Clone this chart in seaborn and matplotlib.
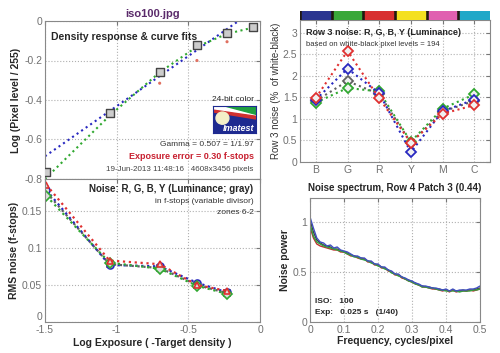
import numpy as np
import pandas as pd
import seaborn as sns
import matplotlib.pyplot as plt
from matplotlib.patches import Polygon, Ellipse

# ---- data ----
# density response (top left)
exposure_log = [-1.49, -1.05, -0.70, -0.44, -0.23, -0.05]
density_pts = [-0.765, -0.466, -0.258, -0.12, -0.06, -0.03]
red_dots_x = [-0.70, -0.44, -0.23]
red_dots_y = [-0.315, -0.20, -0.105]
fit_blue_x = [-1.5, -0.15]
fit_blue_y = [-0.685, 0.0]
fit_green_x = [-1.5, -1.05, -0.70, -0.44, -0.23, -0.03]
fit_green_y = [-0.80, -0.48, -0.26, -0.13, -0.065, -0.03]

# RMS noise in f-stops (bottom left)
noise_x = [-1.49, -1.05, -0.70, -0.44, -0.23]
noise_r = [0.185, 0.083, 0.078, 0.050, 0.042]
noise_g = [0.170, 0.080, 0.072, 0.049, 0.038]
noise_b = [0.178, 0.077, 0.075, 0.053, 0.040]
noise_y = [0.175, 0.078, 0.073, 0.050, 0.039]

# row 3 noise (top right)
patches = ['B', 'G', 'R', 'Y', 'M', 'C']
row3_r = [1.49, 2.58, 1.48, 0.45, 1.12, 1.32]
row3_g = [1.38, 1.72, 1.64, 0.47, 1.24, 1.57]
row3_b = [1.45, 2.17, 1.60, 0.23, 1.18, 1.45]
row3_y = [1.42, 1.88, 1.58, 0.45, 1.17, 1.42]
patch_colors = ['#2b3590', '#3aa83a', '#d83030', '#f4e020', '#e060b0', '#20a8c8']

# noise spectrum (bottom right)
freq = np.round(np.arange(0, 0.501, 0.01), 2)
spec_y = [1.02, 0.90, 0.82, 0.79, 0.77, 0.76, 0.75, 0.73, 0.73, 0.71, 0.70, 0.69, 0.67,
          0.66, 0.65, 0.64, 0.63, 0.61, 0.60, 0.58, 0.57, 0.55, 0.54, 0.52, 0.50, 0.48,
          0.47, 0.45, 0.43, 0.42, 0.40, 0.39, 0.37, 0.36, 0.35, 0.35, 0.34, 0.33, 0.33,
          0.32, 0.32, 0.31, 0.32, 0.31, 0.31, 0.32, 0.31, 0.32, 0.32, 0.33, 0.34]
spec_b = [1.05, 0.94, 0.84, 0.80, 0.79, 0.76, 0.77, 0.74, 0.75, 0.72, 0.71, 0.70, 0.68,
          0.66, 0.66, 0.64, 0.64, 0.61, 0.61, 0.58, 0.58, 0.55, 0.55, 0.52, 0.51, 0.48,
          0.48, 0.45, 0.44, 0.42, 0.41, 0.39, 0.38, 0.36, 0.36, 0.35, 0.34, 0.34, 0.33,
          0.32, 0.33, 0.31, 0.33, 0.31, 0.32, 0.32, 0.32, 0.33, 0.33, 0.34, 0.36]
spec_g = [0.98, 0.86, 0.80, 0.78, 0.76, 0.75, 0.74, 0.73, 0.72, 0.71, 0.70, 0.68, 0.67,
          0.65, 0.65, 0.63, 0.62, 0.61, 0.59, 0.58, 0.56, 0.55, 0.53, 0.52, 0.49, 0.48,
          0.46, 0.45, 0.43, 0.41, 0.40, 0.38, 0.37, 0.35, 0.35, 0.34, 0.34, 0.33, 0.32,
          0.32, 0.31, 0.31, 0.31, 0.31, 0.30, 0.31, 0.31, 0.31, 0.32, 0.32, 0.33]
spec_r = [0.95, 0.84, 0.78, 0.76, 0.75, 0.74, 0.73, 0.72, 0.72, 0.70, 0.70, 0.68, 0.66,
          0.66, 0.64, 0.63, 0.63, 0.60, 0.60, 0.57, 0.57, 0.54, 0.54, 0.51, 0.50, 0.47,
          0.47, 0.44, 0.43, 0.41, 0.40, 0.38, 0.37, 0.35, 0.35, 0.34, 0.33, 0.33, 0.32,
          0.31, 0.32, 0.30, 0.32, 0.30, 0.31, 0.31, 0.31, 0.32, 0.31, 0.32, 0.33]

RED, GREEN, BLUE, GRAY = '#e03030', '#30a830', '#2828c0', '#606060'

sns.set_style('white')
plt.rcParams['font.family'] = ['Liberation Sans', 'DejaVu Sans']

W, H = 500, 353
fig = plt.figure(figsize=(W / 100, H / 100), dpi=100)


def px_axes(l, t, r, b):
    return fig.add_axes([l / W, 1 - b / H, (r - l) / W, (b - t) / H])


def style(ax):
    ax.grid(True, linestyle=':', color='#b0b0b0', linewidth=0.8)
    ax.tick_params(direction='in', top=True, right=True, length=3, labelsize=7.5,
                   labelcolor='#707070', color='#777777', pad=2)
    for s in ax.spines.values():
        s.set_color('#888888')
        s.set_linewidth(0.8)


# ---- top left: density response ----
ax1 = px_axes(45, 21, 260, 179)
sns.lineplot(x=fit_blue_x, y=fit_blue_y, ax=ax1, color=BLUE, linestyle=':', linewidth=1.5)
sns.lineplot(x=fit_green_x, y=fit_green_y, ax=ax1, color=GREEN, linestyle=':', linewidth=1.5)
sns.scatterplot(x=red_dots_x, y=red_dots_y, ax=ax1, color='#e07060', s=5, edgecolor='none')
sns.scatterplot(x=exposure_log, y=density_pts, ax=ax1, marker='s', s=30, color='#cccccc',
                edgecolor='#444444', linewidth=1.0, zorder=5)
ax1.set_xlim(-1.5, 0)
ax1.set_ylim(-0.8, 0)
ax1.set_xticks([-1.5, -1, -0.5, 0])
ax1.set_xticklabels([])
ax1.set_yticks([0, -0.2, -0.4, -0.6, -0.8])
ax1.set_yticklabels(['0', '-0.2', '-0.4', '-0.6', '-0.8'])
ax1.set_ylabel('Log (Pixel level / 255)', fontsize=7.5, fontweight='bold', labelpad=2)
style(ax1)
ax1.text(0.03, 0.93, 'Density response & curve fits', transform=ax1.transAxes,
         fontsize=7.5, fontweight='bold', va='top')
ax1.text(0.97, 0.505, '24-bit color', transform=ax1.transAxes, fontsize=6, ha='right', va='center')
ax1.text(0.97, 0.22, 'Gamma = 0.507 = 1/1.97', transform=ax1.transAxes, fontsize=6,
         ha='right', va='center', color='#333333')
ax1.text(0.97, 0.14, 'Exposure error = 0.30 f-stops', transform=ax1.transAxes, fontsize=6.5,
         ha='right', va='center', color='#c82030', fontweight='bold')
ax1.text(0.97, 0.06, '19-Jun-2013 11:48:16   4608x3456 pixels', transform=ax1.transAxes,
         fontsize=5.8, ha='right', va='center', color='#444444')
ax1.set_title('iso100.jpg', fontsize=8, fontweight='bold', color='#5a2a6a', pad=3)

# Imatest logo
logo = px_axes(213, 106, 256, 133)
logo.set_xlim(0, 1)
logo.set_ylim(0, 1)
logo.set_facecolor('#1e2a90')
logo.add_patch(Polygon([(0, 1), (1, 1), (1, 0.62), (0, 0.85)], color='white'))
logo.add_patch(Polygon([(0.3, 1), (1, 1), (1, 0.72)], color='#20a040'))
logo.add_patch(Polygon([(0, 0.85), (1, 0.62), (1, 0.52), (0, 0.78)], color='#d03030'))
logo.add_patch(Ellipse((0.22, 0.55), 0.3, 0.45, color='#f4f0c8'))
logo.text(0.97, 0.18, 'Imatest', color='white', fontsize=6.5, fontstyle='italic',
          fontweight='bold', ha='right', va='center')
logo.set_xticks([])
logo.set_yticks([])
for s in logo.spines.values():
    s.set_color('#1e2a90')

# ---- bottom left: RMS noise ----
ax2 = px_axes(45, 179, 260, 322)
for vals, c, m in [(noise_y, GRAY, 's'), (noise_b, BLUE, 'o'), (noise_g, GREEN, 'D'),
                   (noise_r, RED, '^')]:
    sns.lineplot(x=noise_x, y=vals, ax=ax2, color=c, linestyle=':', linewidth=1.6,
                 marker=m, markersize=5, markerfacecolor='#dddddd', markeredgecolor=c,
                 markeredgewidth=1.2)
ax2.set_xlim(-1.5, 0)
ax2.set_ylim(0, 0.193)
ax2.set_xticks([-1.5, -1, -0.5, 0])
ax2.set_xticklabels(['-1.5', '-1', '-0.5', '0'])
ax2.set_yticks([0, 0.05, 0.1, 0.15])
ax2.set_yticklabels(['0', '0.05', '0.1', '0.15'])
ax2.get_yticklabels()[0].set_va('bottom')
ax2.set_xlabel('Log Exposure ( -Target density )', fontsize=7.5, fontweight='bold', labelpad=2)
ax2.set_ylabel('RMS noise (f-stops)', fontsize=7.5, fontweight='bold', labelpad=2)
style(ax2)
ax2.text(0.97, 0.93, 'Noise: R, G, B, Y (Luminance; gray)', transform=ax2.transAxes,
         fontsize=7, fontweight='bold', ha='right', va='center')
ax2.text(0.97, 0.845, 'in f-stops (variable divisor)', transform=ax2.transAxes,
         fontsize=6, ha='right', va='center', color='#333333')
ax2.text(0.97, 0.765, 'zones 6-2', transform=ax2.transAxes,
         fontsize=6, ha='right', va='center', color='#333333')

# ---- top right: row 3 noise ----
ax3 = px_axes(300, 20, 490, 162)
for vals, c in [(row3_y, GRAY), (row3_g, GREEN), (row3_b, BLUE), (row3_r, RED)]:
    sns.lineplot(x=patches, y=vals, ax=ax3, color=c, linestyle=':', linewidth=1.5, sort=False,
                 marker='D', markersize=5, markerfacecolor='#f0f0f0', markeredgecolor=c,
                 markeredgewidth=1.3)
ax3.set_xlim(-0.5, 5.5)
ax3.set_ylim(0, 3.3)
ax3.set_yticks([0, 0.5, 1, 1.5, 2, 2.5, 3])
ax3.set_yticklabels(['0', '0.5', '1', '1.5', '2', '2.5', '3'])
ax3.set_xlabel('')
ax3.set_ylabel('Row 3 noise (%  of white-black)', fontsize=7, labelpad=1, color='#333333')
style(ax3)
ax3.text(0.03, 0.91, 'Row 3 noise: R, G, B, Y (Luminance)', transform=ax3.transAxes,
         fontsize=6.5, fontweight='bold', va='center')
ax3.text(0.03, 0.83, 'based on white-black pixel levels = 194', transform=ax3.transAxes,
         fontsize=5.5, va='center', color='#333333')

# patch colour strip above row 3 plot
strip = px_axes(300, 11, 490, 20)
strip.set_facecolor('#201810')
for i, c in enumerate(patch_colors):
    strip.axvspan(i + 0.06, i + 1 - 0.06 if i < 5 else i + 1, color=c)
strip.set_xlim(0, 6)
strip.set_xticks([])
strip.set_yticks([])
for s in strip.spines.values():
    s.set_visible(False)

# ---- bottom right: noise spectrum ----
ax4 = px_axes(310, 198, 480, 322)
spec = pd.DataFrame({'freq': freq, 'Y': spec_y, 'R': spec_r, 'G': spec_g, 'B': spec_b})
for ch, c in [('Y', '#404040'), ('R', '#c03030'), ('G', '#30a040'), ('B', '#4050c0')]:
    sns.lineplot(data=spec, x='freq', y=ch, ax=ax4, color=c, linewidth=1.0)
ax4.set_xlim(0, 0.5)
ax4.set_ylim(0, 1.24)
ax4.set_xticks([0, 0.1, 0.2, 0.3, 0.4, 0.5])
ax4.set_xticklabels(['0', '0.1', '0.2', '0.3', '0.4', '0.5'])
ax4.set_yticks([0, 0.5, 1])
ax4.set_yticklabels(['0', '0.5', '1'])
ax4.set_xlabel('Frequency, cycles/pixel', fontsize=7.5, fontweight='bold', labelpad=1)
ax4.set_ylabel('Noise power', fontsize=7.5, fontweight='bold', labelpad=2)
ax4.set_title('Noise spectrum, Row 4 Patch 3 (0.44)', fontsize=7, fontweight='bold', pad=5)
style(ax4)
ax4.text(0.03, 0.165, 'ISO:   100', transform=ax4.transAxes, fontsize=6,
         fontweight='bold', va='center')
ax4.text(0.03, 0.08, 'Exp:   0.025 s   (1/40)', transform=ax4.transAxes, fontsize=6,
         fontweight='bold', va='center')

fig.savefig('out.png', dpi=100)
